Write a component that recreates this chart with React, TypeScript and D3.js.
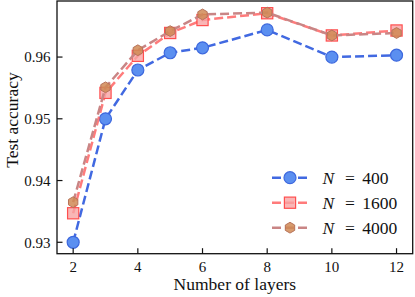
import React, { useEffect, useRef } from "react";
import * as d3 from "d3";

const layers = [2, 3, 4, 5, 6, 8, 10, 12];
const acc400 = [0.93, 0.95, 0.9579, 0.9607, 0.9615, 0.9644, 0.96, 0.9603];
const acc1600 = [0.9347, 0.9542, 0.9602, 0.9639, 0.966, 0.9671, 0.9635, 0.9643];
const acc4000 = [0.9365, 0.9551, 0.9611, 0.9642, 0.9669, 0.9672, 0.9635, 0.9639];
const xTicks = [2, 4, 6, 8, 10, 12];
const yTicks = [0.93, 0.94, 0.95, 0.96];
const seriesNames = ["400", "1600", "4000"];

const FONT = "Liberation Serif, DejaVu Serif, serif";

const App = () => {
  const svgRef = useRef<SVGSVGElement>(null);

  useEffect(() => {
    const width = 415;
    const height = 297;
    const m = { left: 57, right: 2.3, top: 1, bottom: 43.3 };

    const svg = d3.select(svgRef.current);
    svg.selectAll("*").remove();

    const x = d3.scaleLinear().domain([1.5, 12.5]).range([m.left, width - m.right]);
    const y = d3.scaleLinear().domain([0.92815, 0.96908]).range([height - m.bottom, m.top]);

    const series = [
      { name: seriesNames[0], values: acc400, line: "#4169e1", lineOpacity: 1, fill: "#5b8ff0", fillOpacity: 1, stroke: "#3d68de", shape: "circle" },
      { name: seriesNames[1], values: acc1600, line: "#ff5a5a", lineOpacity: 0.8, fill: "#f7a4a4", fillOpacity: 0.8, stroke: "#ff4f4f", shape: "square" },
      { name: seriesNames[2], values: acc4000, line: "#c98585", lineOpacity: 1, fill: "#d08a55", fillOpacity: 0.85, stroke: "#b7735a", shape: "hexagon" },
    ];

    const marker = (g: any, shape: string, s: any) => {
      if (shape === "circle") {
        g.append("circle").attr("r", 6).attr("fill", s.fill).attr("stroke", s.stroke).attr("stroke-width", 1.2);
      } else if (shape === "square") {
        g.append("rect").attr("x", -5.6).attr("y", -5.6).attr("width", 11.2).attr("height", 11.2)
          .attr("fill", s.fill).attr("fill-opacity", s.fillOpacity).attr("stroke", s.stroke).attr("stroke-width", 1.2);
      } else {
        const r = 5.4;
        const pts = d3.range(6).map((i) => {
          const a = -Math.PI / 2 + (i * Math.PI) / 3;
          return [r * Math.cos(a), r * Math.sin(a)];
        });
        g.append("path").attr("d", "M" + pts.map((p) => p.join(",")).join("L") + "Z")
          .attr("fill", s.fill).attr("fill-opacity", s.fillOpacity)
          .attr("stroke", s.stroke).attr("stroke-width", 1);
      }
    };

    const line = d3.line<number>().x((d, i) => x(layers[i])).y((d) => y(d));

    series.forEach((s) => {
      svg.append("path")
        .datum(s.values)
        .attr("d", line)
        .attr("fill", "none")
        .attr("stroke", s.line)
        .attr("stroke-opacity", s.lineOpacity)
        .attr("stroke-width", 2.5)
        .attr("stroke-dasharray", "9,4");
      s.values.forEach((v, i) => {
        const g = svg.append("g").attr("transform", `translate(${x(layers[i])},${y(v)})`);
        marker(g, s.shape, s);
      });
    });

    // frame
    svg.append("rect")
      .attr("x", m.left).attr("y", m.top)
      .attr("width", width - m.right - m.left).attr("height", height - m.bottom - m.top)
      .attr("fill", "none").attr("stroke", "#111").attr("stroke-width", 1.3);

    // ticks
    xTicks.forEach((t) => {
      svg.append("line").attr("x1", x(t)).attr("x2", x(t))
        .attr("y1", height - m.bottom).attr("y2", height - m.bottom - 5.5)
        .attr("stroke", "#111").attr("stroke-width", 1.2);
      svg.append("text").attr("x", x(t)).attr("y", 271.5)
        .attr("text-anchor", "middle").attr("font-family", FONT).attr("font-size", 15)
        .attr("fill", "#111").text(t);
    });
    yTicks.forEach((t) => {
      svg.append("line").attr("x1", m.left).attr("x2", m.left + 5.5)
        .attr("y1", y(t)).attr("y2", y(t))
        .attr("stroke", "#111").attr("stroke-width", 1.2);
      svg.append("text").attr("x", 50.5).attr("y", y(t) + 5.3)
        .attr("text-anchor", "end").attr("font-family", FONT).attr("font-size", 15)
        .attr("fill", "#111").text(d3.format(".2f")(t));
    });

    // axis labels
    svg.append("text").attr("x", (m.left + width - m.right) / 2).attr("y", 289.5)
      .attr("text-anchor", "middle").attr("font-family", FONT).attr("font-size", 17.5)
      .attr("fill", "#111").text("Number of layers");
    svg.append("text")
      .attr("transform", `translate(17.5,120) rotate(-90)`)
      .attr("text-anchor", "middle").attr("font-family", FONT).attr("font-size", 17.5)
      .attr("fill", "#111").text("Test accuracy");

    // legend
    series.forEach((s, i) => {
      const cy = 177.7 + i * 25;
      svg.append("line").attr("x1", 272).attr("x2", 308).attr("y1", cy).attr("y2", cy)
        .attr("stroke", s.line).attr("stroke-opacity", s.lineOpacity)
        .attr("stroke-width", 2.5).attr("stroke-dasharray", "9,4");
      const g = svg.append("g").attr("transform", `translate(290,${cy})`);
      marker(g, s.shape, s);
      const txt = svg.append("text").attr("y", cy + 6).attr("font-family", FONT)
        .attr("font-size", 17.5).attr("fill", "#111");
      txt.append("tspan").attr("x", 322.5).attr("font-style", "italic").text("N");
      txt.append("tspan").attr("x", 345).text("=");
      txt.append("tspan").attr("x", 362.3).text(s.name);
    });
  }, []);

  return (
    <svg
      ref={svgRef}
      width={415}
      height={297}
      style={{ position: "absolute", left: 0, top: 0, background: "#fff" }}
    ></svg>
  );
};

export default App;
